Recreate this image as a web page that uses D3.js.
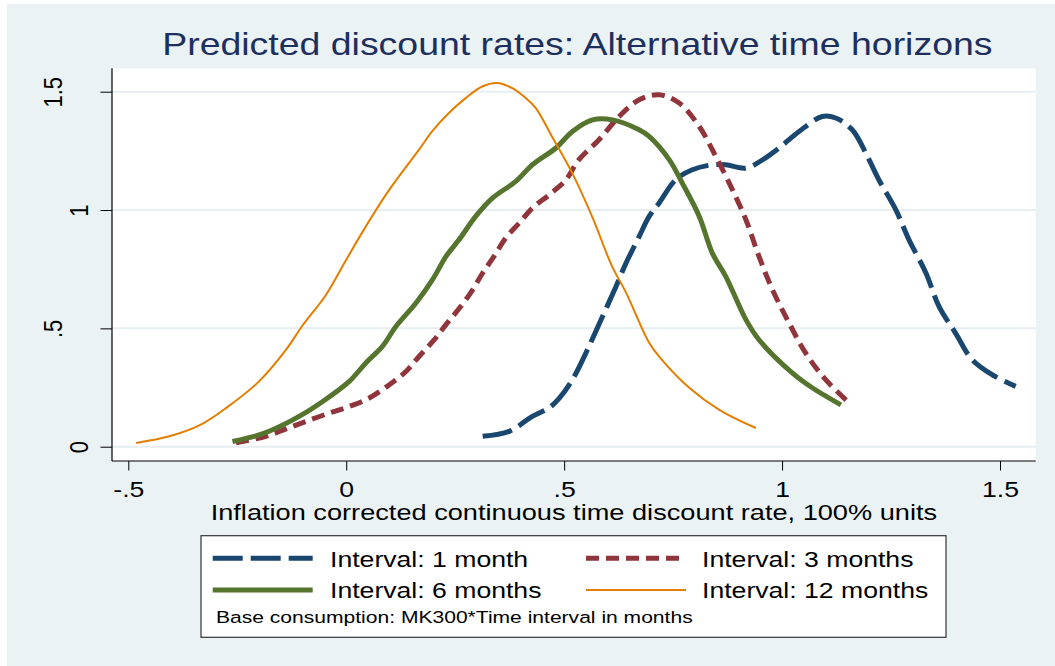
<!DOCTYPE html>
<html>
<head>
<meta charset="utf-8">
<script src="https://cdn.jsdelivr.net/npm/d3@7"></script>
<style>
  body { margin: 0; background: #ffffff; }
  svg { display: block; }
</style>
</head>
<body>
<div id="chart"></div>
<script>
// density values (x = discount rate, y = density)
const rate1m = [0.313, 0.374, 0.427, 0.466, 0.489, 0.519, 0.557, 0.588, 0.619, 0.642, 0.672, 0.695, 0.718, 0.756, 0.794, 0.840, 0.871, 0.917, 0.955, 0.993, 1.039, 1.092, 1.123, 1.161, 1.192, 1.222, 1.261, 1.291, 1.330, 1.360, 1.398, 1.436, 1.482, 1.536];
const dens1m = [0.044, 0.065, 0.128, 0.165, 0.205, 0.283, 0.424, 0.550, 0.677, 0.776, 0.888, 0.973, 1.030, 1.128, 1.170, 1.191, 1.191, 1.177, 1.212, 1.262, 1.332, 1.395, 1.389, 1.339, 1.241, 1.128, 1.001, 0.875, 0.734, 0.593, 0.480, 0.368, 0.304, 0.255];

const rate3m = [-0.253, -0.184, -0.138, -0.092, -0.039, 0.007, 0.053, 0.099, 0.137, 0.167, 0.202, 0.232, 0.263, 0.290, 0.313, 0.339, 0.366, 0.397, 0.427, 0.466, 0.504, 0.534, 0.580, 0.626, 0.672, 0.718, 0.764, 0.810, 0.848, 0.886, 0.917, 0.947, 0.978, 1.016, 1.054, 1.100, 1.154];
const dens3m = [0.016, 0.044, 0.075, 0.107, 0.142, 0.170, 0.206, 0.262, 0.318, 0.381, 0.452, 0.523, 0.593, 0.663, 0.734, 0.804, 0.882, 0.945, 1.008, 1.065, 1.128, 1.213, 1.297, 1.395, 1.466, 1.487, 1.452, 1.353, 1.226, 1.086, 0.959, 0.804, 0.663, 0.523, 0.396, 0.283, 0.185];

const rate6m = [-0.261, -0.207, -0.177, -0.108, -0.054, 0.007, 0.045, 0.083, 0.114, 0.160, 0.198, 0.229, 0.259, 0.297, 0.336, 0.389, 0.427, 0.481, 0.519, 0.565, 0.611, 0.672, 0.695, 0.741, 0.771, 0.810, 0.840, 0.871, 0.917, 0.947, 1.024, 1.070, 1.135];
const dens6m = [0.022, 0.046, 0.065, 0.128, 0.191, 0.276, 0.354, 0.424, 0.508, 0.607, 0.706, 0.804, 0.875, 0.973, 1.051, 1.121, 1.191, 1.262, 1.332, 1.381, 1.381, 1.339, 1.311, 1.213, 1.114, 0.973, 0.818, 0.719, 0.537, 0.452, 0.311, 0.248, 0.177];

const rate12m = [-0.482, -0.406, -0.337, -0.276, -0.200, -0.138, -0.101, -0.047, 0.000, 0.045, 0.099, 0.167, 0.197, 0.236, 0.274, 0.312, 0.346, 0.381, 0.412, 0.435, 0.472, 0.518, 0.564, 0.610, 0.642, 0.695, 0.718, 0.787, 0.856, 0.940];
const dens12m = [0.016, 0.044, 0.090, 0.163, 0.276, 0.410, 0.510, 0.640, 0.790, 0.931, 1.086, 1.255, 1.332, 1.411, 1.473, 1.522, 1.537, 1.515, 1.473, 1.431, 1.311, 1.158, 0.973, 0.762, 0.651, 0.439, 0.381, 0.249, 0.156, 0.079];

const seriesLabels = ["Interval: 1 month", "Interval: 3 months", "Interval: 6 months", "Interval: 12 months"];
const xTicks = [-0.5, 0, 0.5, 1, 1.5];
const yTicks = [0, 0.5, 1, 1.5];
const titleText = "Predicted discount rates: Alternative time horizons";
const xTitleText = "Inflation corrected continuous time discount rate, 100% units";
const noteText = "Base consumption: MK300*Time interval in months";

// line styles per series (stata s2color look)
const lineColors = ["#1a476f", "#90353b", "#55752f", "#e37e00"];
const lineWidths = [5, 5, 5, 2];
const lineDashes = ["30,8", "13,7", null, null];

const W = 1055, H = 666;
const stretch = 1.21; // original picture is wider than tall, text looks stretched
const font = "'Liberation Sans', Arial, sans-serif";

const series = [
  { rate: rate1m, dens: dens1m },
  { rate: rate3m, dens: dens3m },
  { rate: rate6m, dens: dens6m },
  { rate: rate12m, dens: dens12m }
].map((s, i) => ({
  label: seriesLabels[i],
  points: s.rate.map((r, j) => ({ x: r, y: s.dens[j] }))
}));

const plot = { left: 112, right: 1035.7, top: 68.3, bottom: 461 };

const xScale = d3.scaleLinear().domain([-0.5, 1.5]).range([128.3, 1000]);
const yScale = d3.scaleLinear().domain([0, 1.5]).range([446.7, 91.7]);

const svg = d3.select('#chart')
  .append('svg')
  .attr('width', W)
  .attr('height', H)
  .style('font-family', font);

// graph region
svg.append('rect')
  .attr('x', 7).attr('y', 4)
  .attr('width', W - 7).attr('height', H - 4)
  .attr('fill', '#eaf2f3');

// plot region
svg.append('rect')
  .attr('x', plot.left).attr('y', plot.top)
  .attr('width', plot.right - plot.left)
  .attr('height', plot.bottom - plot.top)
  .attr('fill', '#ffffff');

const fmt = d => String(d).replace(/^(-?)0\./, '$1.');

// grid
svg.append('g')
  .attr('class', 'grid')
  .selectAll('line')
  .data(yTicks)
  .enter()
  .append('line')
  .attr('x1', plot.left)
  .attr('x2', plot.right)
  .attr('y1', d => yScale(d))
  .attr('y2', d => yScale(d))
  .attr('stroke', '#e6eef1')
  .attr('stroke-width', 2);

// series
const line = d3.line()
  .x(d => xScale(d.x))
  .y(d => yScale(d.y))
  .curve(d3.curveCatmullRom.alpha(0.5));

svg.append('g')
  .selectAll('path')
  .data(series)
  .enter()
  .append('path')
  .attr('d', d => line(d.points))
  .attr('fill', 'none')
  .attr('stroke', (d, i) => lineColors[i])
  .attr('stroke-width', (d, i) => lineWidths[i])
  .attr('stroke-dasharray', (d, i) => lineDashes[i])
  .attr('stroke-linejoin', 'round');

// x axis
const xAxis = svg.append('g')
  .attr('transform', `translate(0, ${plot.bottom})`)
  .call(d3.axisBottom(xScale).tickValues(xTicks).tickFormat(fmt).tickSize(9.5).tickSizeOuter(0));
xAxis.select('.domain').remove();
xAxis.selectAll('.tick line').attr('stroke', '#000');
xAxis.selectAll('.tick text')
  .attr('y', 0).attr('dy', 0)
  .attr('transform', `translate(0, 35.7) scale(${stretch}, 1)`)
  .attr('fill', '#000')
  .style('font-size', '22px')
  .style('font-family', font);

// y axis
const yAxis = svg.append('g')
  .attr('transform', `translate(${plot.left}, 0)`)
  .call(d3.axisLeft(yScale).tickValues(yTicks).tickFormat(fmt).tickSize(11.5).tickSizeOuter(0));
yAxis.select('.domain').remove();
yAxis.selectAll('.tick line').attr('stroke', '#000');
yAxis.selectAll('.tick text')
  .attr('x', 0).attr('dy', 0)
  .attr('text-anchor', 'middle')
  // labels with a decimal point sit further out in the original
  .attr('transform', d => `translate(${String(d).includes('.') ? -50.3 : -24}, 0) rotate(-90) scale(1, ${stretch})`)
  .attr('fill', '#000')
  .style('font-size', '22px')
  .style('font-family', font);

// axis lines
svg.append('line')
  .attr('x1', plot.left).attr('x2', plot.left)
  .attr('y1', plot.top).attr('y2', plot.bottom)
  .attr('stroke', '#000').attr('stroke-width', 1.2);
svg.append('line')
  .attr('x1', plot.left).attr('x2', plot.right)
  .attr('y1', plot.bottom).attr('y2', plot.bottom)
  .attr('stroke', '#000').attr('stroke-width', 1.2);

// titles
const midX = (plot.left + plot.right) / 2;
svg.append('text')
  .attr('transform', `translate(${midX + 3.5}, 55) scale(1.228, 1)`)
  .attr('text-anchor', 'middle')
  .attr('fill', '#1e2f5e')
  .style('font-size', '30.5px')
  .text(titleText);

svg.append('text')
  .attr('transform', `translate(${midX}, 520) scale(1.235, 1)`)
  .attr('text-anchor', 'middle')
  .attr('fill', '#000')
  .style('font-size', '22px')
  .text(xTitleText);

// legend
const legend = svg.append('g');
legend.append('rect')
  .attr('x', 201).attr('y', 535.7)
  .attr('width', 745).attr('height', 101.6)
  .attr('fill', '#ffffff')
  .attr('stroke', '#333')
  .attr('stroke-width', 1.2);

const colX = [212.7, 586];
const rowY = [558.3, 590];

const items = legend.selectAll('.item')
  .data(series)
  .enter()
  .append('g')
  .attr('class', 'item')
  .attr('transform', (d, i) => `translate(${colX[i % 2]}, ${rowY[Math.floor(i / 2)]})`);

items.append('line')
  .attr('x1', 0).attr('x2', 100)
  .attr('y1', 0).attr('y2', 0)
  .attr('stroke', (d, i) => lineColors[i])
  .attr('stroke-width', (d, i) => lineWidths[i])
  .attr('stroke-dasharray', (d, i) => lineDashes[i]);

items.append('text')
  .attr('transform', (d, i) => `translate(${i % 2 === 0 ? 117.3 : 116}, 8.2) scale(${stretch}, 1)`)
  .attr('fill', '#000')
  .style('font-size', '22px')
  .text(d => d.label);

legend.append('text')
  .attr('transform', `translate(216, 622.7) scale(1.24, 1)`)
  .attr('fill', '#000')
  .style('font-size', '17px')
  .text(noteText);
</script>
</body>
</html>
